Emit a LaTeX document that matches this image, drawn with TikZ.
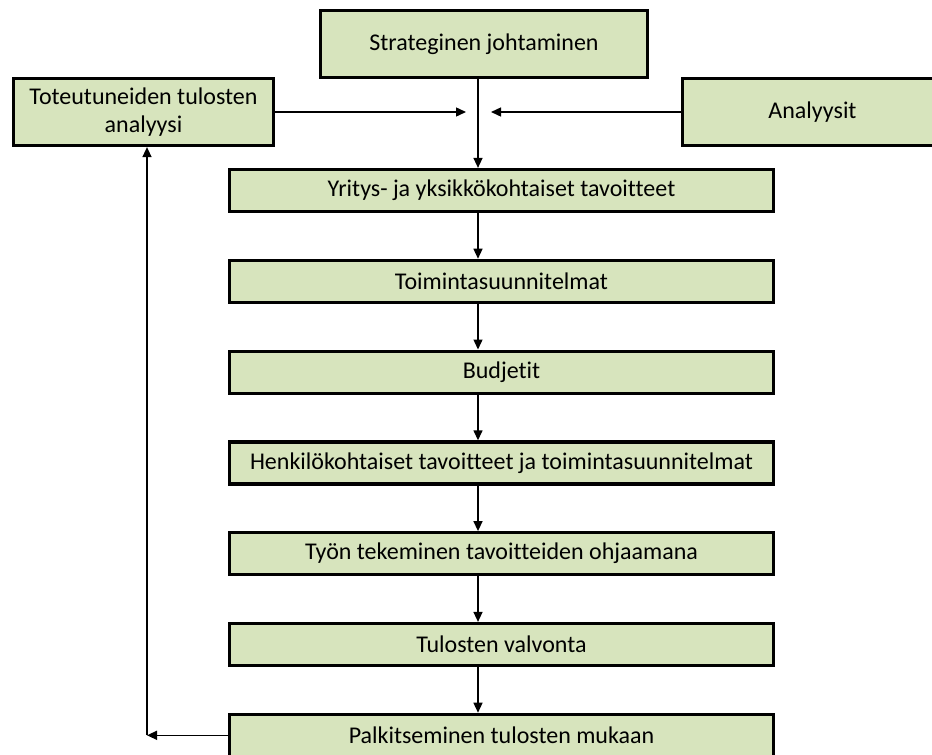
\documentclass[tikz,border=0pt]{standalone}
\usepackage{fontspec}
\setmainfont[Ligatures=NoCommon]{Carlito}
\usetikzlibrary{arrows.meta}
\definecolor{boxgreen}{HTML}{D7E4BD}

\begin{document}
\begin{tikzpicture}[x=1pt,y=-1pt,>={Triangle[length=10pt,width=9pt]}]
            \tikzstyle{phase}=[draw,line width=3.2pt,fill=boxgreen,minimum width=544pt,minimum height=42pt,inner sep=0pt,font=\fontsize{24}{28.5}\selectfont]
            \tikzstyle{side}=[phase,minimum width=260pt,minimum height=67pt,align=center]
            \tikzstyle{link}=[line width=1.4pt,->]
            \useasboundingbox (0,0) rectangle (932,755);
            \node[side,minimum width=327pt] (strat) at (484,44) {Strateginen johtaminen};
            \node[side] (tot) at (143.5,112) {Toteutuneiden tulosten\\analyysi};
            \node[side] (ana) at (812.5,112) {Analyysit};
            \node[phase] (yri) at (501.5,190.5) {Yritys- ja yksikkökohtaiset tavoitteet};
            \node[phase] (toim) at (501.5,281.3) {Toimintasuunnitelmat};
            \node[phase] (bud) at (501.5,372.1) {Budjetit};
            \node[phase] (henk) at (501.5,462.9) {Henkilökohtaiset tavoitteet ja toimintasuunnitelmat};
            \node[phase] (tyo) at (501.5,553.7) {Työn tekeminen tavoitteiden ohjaamana};
            \node[phase] (valv) at (501.5,644.5) {Tulosten valvonta};
            \node[phase] (palk) at (501.5,735.3) {Palkitseminen tulosten mukaan};
            \coordinate (axis) at (478,0);
            \coordinate (inL) at (466,112);
            \coordinate (inR) at (491,112);
            \coordinate (back) at (147,735.3);
            \draw[link] (tot.east) -- (inL);
            \draw[link] (ana.west) -- (inR);
            \draw[link] (strat.south -| axis) -- (yri.north -| axis);
            \draw[link] (yri.south -| axis) -- (toim.north -| axis);
            \draw[link] (toim.south -| axis) -- (bud.north -| axis);
            \draw[link] (bud.south -| axis) -- (henk.north -| axis);
            \draw[link] (henk.south -| axis) -- (tyo.north -| axis);
            \draw[link] (tyo.south -| axis) -- (valv.north -| axis);
            \draw[link] (valv.south -| axis) -- (palk.north -| axis);
            \draw[link] (palk.west) -- (back);
            \draw[link] (back) -- (tot.south -| back);
        \end{tikzpicture}
\end{document}
